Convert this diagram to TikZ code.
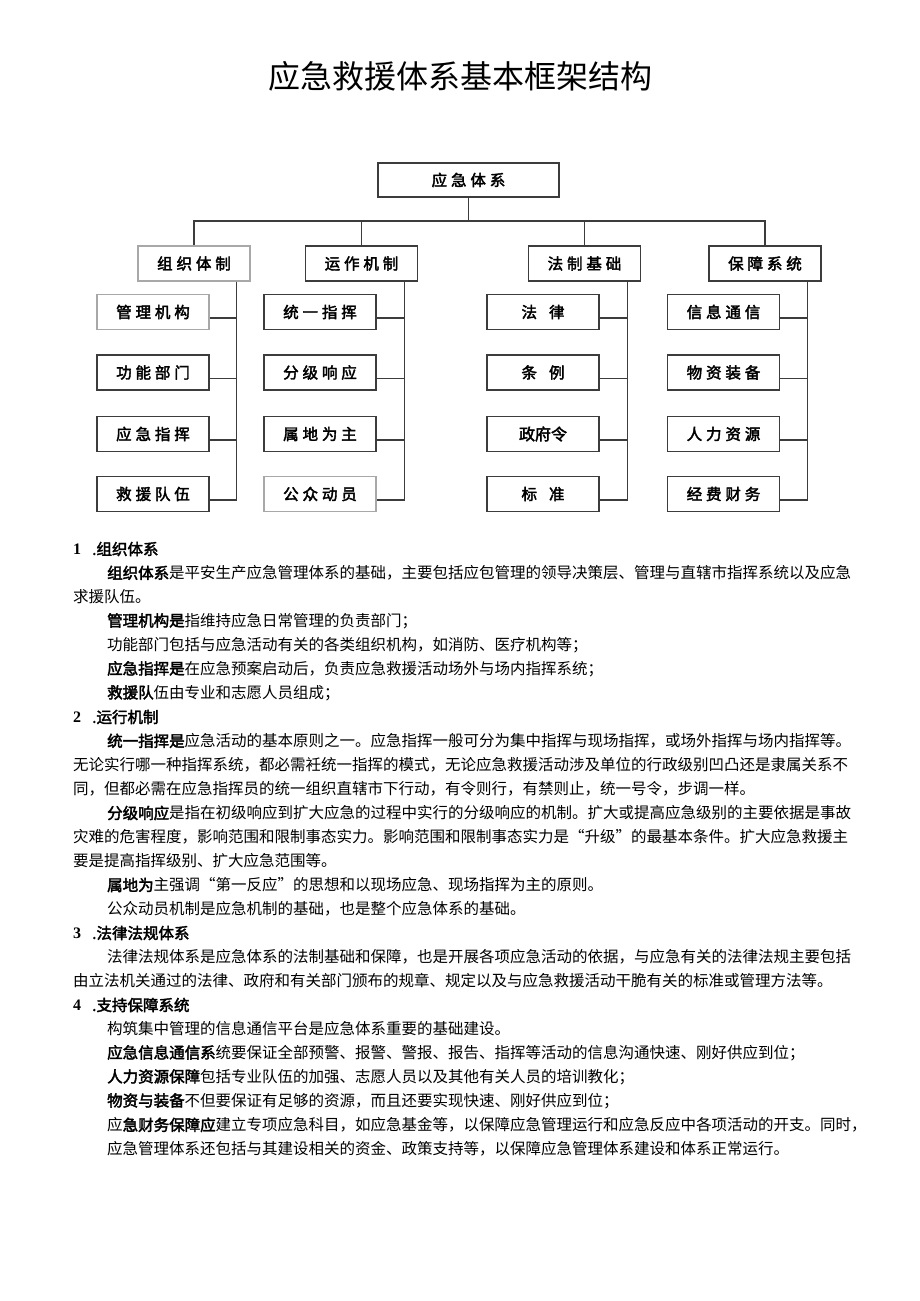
\documentclass[tikz,border=0pt]{standalone}
\usepackage{fontspec}
\setmainfont[AutoFakeBold=2.5]{Noto Sans CJK SC}
\newfontfamily\boxfont[LetterSpace=25,AutoFakeBold=2.5]{Noto Sans CJK SC}
\newfontfamily\numfont{Liberation Serif}
\definecolor{edge}{HTML}{3C3C3C}
\definecolor{faint}{HTML}{A8A8A8}
\tikzstyle{cell} = [draw=edge, line width=1.4pt, minimum width=112pt, minimum height=35pt, inner sep=0pt, font={\boxfont\bfseries\fontsize{15.5}{15.5}\selectfont}]
\tikzstyle{faded} = [draw=faint]
\tikzstyle{link} = [draw=edge, line width=1.4pt]
\tikzstyle{txt} = [anchor=west, inner sep=0pt, font={\fontsize{15.5}{15.5}\selectfont}]
\tikzstyle{sect} = [txt, font={\bfseries\fontsize{15.5}{15.5}\selectfont}]
\tikzstyle{num} = [txt, font={\numfont\bfseries\fontsize{16}{16}\selectfont}]

\begin{document}
\begin{tikzpicture}[x=1pt,y=-1pt]
  \path[fill=white,use as bounding box] (0,0) rectangle (920,1301);
  \node[font={\fontsize{32}{32}\selectfont}](title) at (460,76){应急救援体系基本框架结构};

  % tree
  \node[cell,minimum width=181pt,minimum height=34pt](top) at (468.5,180){应急体系};
  \node[cell,faded](c1) at (194,263.5){组织体制};
  \node[cell](c2) at (361.5,263.5){运作机制};
  \node[cell](c3) at (584.5,263.5){法制基础};
  \node[cell](c4) at (765,263.5){保障系统};

  \node[cell,faded](a1) at (153,312){管理机构};
  \node[cell](a2) at (153,372.5){功能部门};
  \node[cell](a3) at (153,434){应急指挥};
  \node[cell](a4) at (153,494){救援队伍};
  \node[cell](b1) at (320,312){统一指挥};
  \node[cell](b2) at (320,372.5){分级响应};
  \node[cell](b3) at (320,434){属地为主};
  \node[cell,faded](b4) at (320,494){公众动员};
  \node[cell](d1) at (543,312){法\hspace{12pt}律};
  \node[cell](d2) at (543,372.5){条\hspace{12pt}例};
  \node[cell,font={\bfseries\fontsize{16}{16}\selectfont}](d3) at (543,434){政府令};
  \node[cell](d4) at (543,494){标\hspace{12pt}准};
  \node[cell](e1) at (723.5,312){信息通信};
  \node[cell](e2) at (723.5,372.5){物资装备};
  \node[cell](e3) at (723.5,434){人力资源};
  \node[cell](e4) at (723.5,494){经费财务};

  \coordinate (bus) at (468.5,221);
  \draw[link](top.south)--(bus);
  \draw[link](c1.north)|-(bus)-|(c4.north);
  \draw[link](c2.north)--(c2.north|-bus);
  \draw[link](c3.north)--(c3.north|-bus);

  \coordinate (s1) at ([xshift=-14pt]c1.south east);
  \coordinate (s2) at ([xshift=-14pt]c2.south east);
  \coordinate (s3) at ([xshift=-14pt]c3.south east);
  \coordinate (s4) at ([xshift=-14pt]c4.south east);
  \draw[link](s1)|-([yshift=-6pt]a4.east);
  \draw[link]([yshift=-6pt]a1.east)--([yshift=-6pt]a1.east-|s1);
  \draw[link]([yshift=-6pt]a2.east)--([yshift=-6pt]a2.east-|s1);
  \draw[link]([yshift=-6pt]a3.east)--([yshift=-6pt]a3.east-|s1);
  \draw[link](s2)|-([yshift=-6pt]b4.east);
  \draw[link]([yshift=-6pt]b1.east)--([yshift=-6pt]b1.east-|s2);
  \draw[link]([yshift=-6pt]b2.east)--([yshift=-6pt]b2.east-|s2);
  \draw[link]([yshift=-6pt]b3.east)--([yshift=-6pt]b3.east-|s2);
  \draw[link](s3)|-([yshift=-6pt]d4.east);
  \draw[link]([yshift=-6pt]d1.east)--([yshift=-6pt]d1.east-|s3);
  \draw[link]([yshift=-6pt]d2.east)--([yshift=-6pt]d2.east-|s3);
  \draw[link]([yshift=-6pt]d3.east)--([yshift=-6pt]d3.east-|s3);
  \draw[link](s4)|-([yshift=-6pt]e4.east);
  \draw[link]([yshift=-6pt]e1.east)--([yshift=-6pt]e1.east-|s4);
  \draw[link]([yshift=-6pt]e2.east)--([yshift=-6pt]e2.east-|s4);
  \draw[link]([yshift=-6pt]e3.east)--([yshift=-6pt]e3.east-|s4);

  % text
  \node[num](n1) at (73,549){1};
  \node[sect](h1) at (92,549){.组织体系};
  \node[txt](p1) at (107,573){{\bfseries 组织体系}是平安生产应急管理体系的基础，主要包括应包管理的领导决策层、管理与直辖市指挥系统以及应急};
  \node[txt](p2) at (73,597){求援队伍。};
  \node[txt](p3) at (107,621){{\bfseries 管理机构是}指维持应急日常管理的负责部门；};
  \node[txt](p4) at (107,645){功能部门包括与应急活动有关的各类组织机构，如消防、医疗机构等；};
  \node[txt](p5) at (107,669){{\bfseries 应急指挥是}在应急预案启动后，负责应急救援活动场外与场内指挥系统；};
  \node[txt](p6) at (107,693){{\bfseries 救援队}伍由专业和志愿人员组成；};

  \node[num](n2) at (73,717){2};
  \node[sect](h2) at (92,717){.运行机制};
  \node[txt](q1) at (107,741){{\bfseries 统一指挥是}应急活动的基本原则之一。应急指挥一般可分为集中指挥与现场指挥，或场外指挥与场内指挥等。};
  \node[txt](q2) at (73,765){无论实行哪一种指挥系统，都必需衽统一指挥的模式，无论应急救援活动涉及单位的行政级别凹凸还是隶属关系不};
  \node[txt](q3) at (73,789){同，但都必需在应急指挥员的统一组织直辖市下行动，有令则行，有禁则止，统一号令，步调一样。};
  \node[txt](q4) at (107,813){{\bfseries 分级响应}是指在初级响应到扩大应急的过程中实行的分级响应的机制。扩大或提高应急级别的主要依据是事故};
  \node[txt](q5) at (73,837){灾难的危害程度，影响范围和限制事态实力。影响范围和限制事态实力是“升级”的最基本条件。扩大应急救援主};
  \node[txt](q6) at (73,861){要是提高指挥级别、扩大应急范围等。};
  \node[txt](q7) at (107,885){{\bfseries 属地为}主强调“第一反应”的思想和以现场应急、现场指挥为主的原则。};
  \node[txt](q8) at (107,909){公众动员机制是应急机制的基础，也是整个应急体系的基础。};

  \node[num](n3) at (73,933){3};
  \node[sect](h3) at (92,933){.法律法规体系};
  \node[txt](r1) at (107,957){法律法规体系是应急体系的法制基础和保障，也是开展各项应急活动的依据，与应急有关的法律法规主要包括};
  \node[txt](r2) at (73,981){由立法机关通过的法律、政府和有关部门颁布的规章、规定以及与应急救援活动干脆有关的标准或管理方法等。};

  \node[num](n4) at (73,1005){4};
  \node[sect](h4) at (92,1005){.支持保障系统};
  \node[txt](u1) at (107,1029){构筑集中管理的信息通信平台是应急体系重要的基础建设。};
  \node[txt](u2) at (107,1053){{\bfseries 应急信息通信系}统要保证全部预警、报警、警报、报告、指挥等活动的信息沟通快速、刚好供应到位；};
  \node[txt](u3) at (107,1077){{\bfseries 人力资源保障}包括专业队伍的加强、志愿人员以及其他有关人员的培训教化；};
  \node[txt](u4) at (107,1101){{\bfseries 物资与装备}不但要保证有足够的资源，而且还要实现快速、刚好供应到位；};
  \node[txt](u5) at (107,1125){应{\bfseries 急财务保障应}建立专项应急科目，如应急基金等，以保障应急管理运行和应急反应中各项活动的开支。同时，};
  \node[txt](u6) at (107,1149){应急管理体系还包括与其建设相关的资金、政策支持等，以保障应急管理体系建设和体系正常运行。};
\end{tikzpicture}
\end{document}
